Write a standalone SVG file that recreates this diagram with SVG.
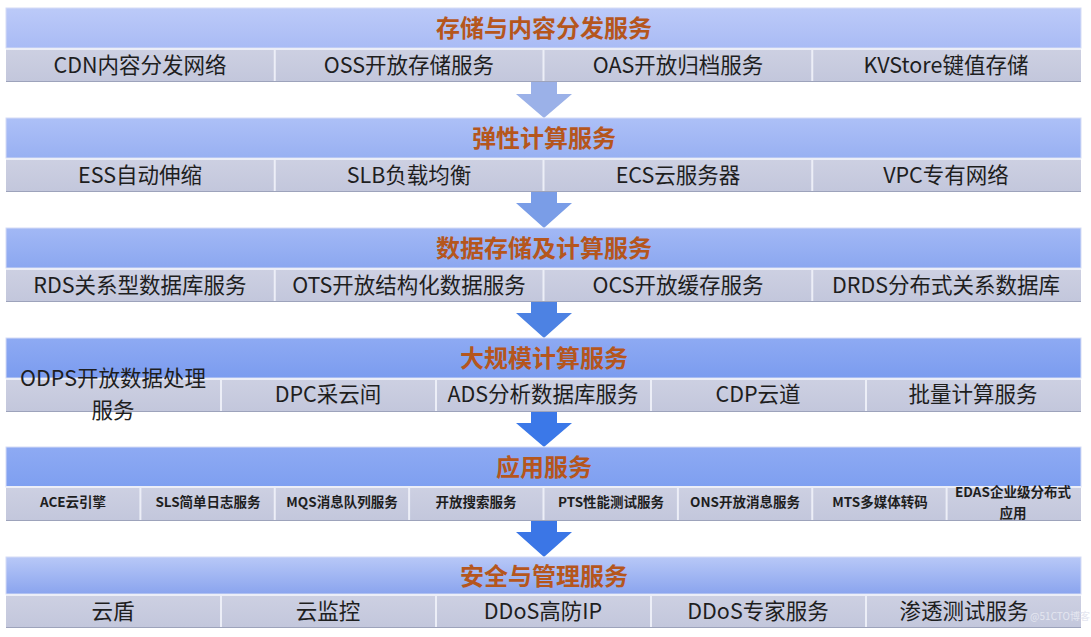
<svg xmlns="http://www.w3.org/2000/svg" width="1091" height="637" viewBox="0 0 1091 637">
<defs>
<linearGradient id="h1" x1="0" y1="0" x2="0" y2="1"><stop offset="0" stop-color="#bccaf8"/><stop offset="1" stop-color="#a9bbf5"/></linearGradient>
<linearGradient id="h2" x1="0" y1="0" x2="0" y2="1"><stop offset="0" stop-color="#adc0f7"/><stop offset="1" stop-color="#98b0f2"/></linearGradient>
<linearGradient id="h3" x1="0" y1="0" x2="0" y2="1"><stop offset="0" stop-color="#a2b8f5"/><stop offset="1" stop-color="#8ba7f0"/></linearGradient>
<linearGradient id="h4" x1="0" y1="0" x2="0" y2="1"><stop offset="0" stop-color="#8eaaf3"/><stop offset="1" stop-color="#7b9cef"/></linearGradient>
<linearGradient id="h5" x1="0" y1="0" x2="0" y2="1"><stop offset="0" stop-color="#8eaaf3"/><stop offset="1" stop-color="#7e9ff0"/></linearGradient>
<linearGradient id="h6" x1="0" y1="0" x2="0" y2="1"><stop offset="0" stop-color="#b8c8f7"/><stop offset="1" stop-color="#8aa4ee"/></linearGradient>
<linearGradient id="cell" x1="0" y1="0" x2="0" y2="1"><stop offset="0" stop-color="#cdd0e2"/><stop offset="1" stop-color="#c3c7dc"/></linearGradient>
</defs>
<style>
.hd{stroke:#d5dcf5;stroke-width:1}
.row{fill:url(#cell)}
.sh{fill:#9da3bb}
.dv{stroke:#eceef7;stroke-width:2}
.ht{font-family:"Noto Sans CJK SC","Noto Sans",sans-serif;font-weight:bold;font-size:24px;fill:#b5561d;text-anchor:middle}
.ct{font-family:"Noto Sans CJK SC","Noto Sans",sans-serif;font-size:21.5px;fill:#1e1e1e;text-anchor:middle}
.cs{font-family:"Noto Sans CJK SC","Noto Sans",sans-serif;font-size:13.5px;font-weight:bold;fill:#1e1e1e;text-anchor:middle}
.wm{font-family:"Noto Sans CJK SC","Noto Sans",sans-serif;font-size:10px;fill:#e4e6f0;text-anchor:end}
</style>
<rect width="1091" height="637" fill="#ffffff"/>

<g id="connectors">
<polygon fill="#9bb1e8" points="531,82 557,82 557,94 572,94 544,118 516,94 531,94"/>
<polygon fill="#7a9de7" points="531,192 557,192 557,203 572,203 544,228 516,203 531,203"/>
<polygon fill="#4d82e3" points="531,302 557,302 557,313 572,313 544,338 516,313 531,313"/>
<polygon fill="#3b78e8" points="531,412 557,412 557,423 572,423 544,447 516,423 531,423"/>
<polygon fill="#3b76e6" points="531,521 557,521 557,532 572,532 544,557 516,532 531,532"/>
</g>

<g id="band1">
<rect class="hd" x="6" y="8" width="1075" height="40" fill="url(#h1)"/>
<text class="ht" x="544" y="37">存储与内容分发服务</text>
<rect class="sh" x="6" y="80" width="1075" height="2"/>
<rect class="row" x="6" y="49" width="1075" height="32"/>
<line class="dv" x1="6" y1="49" x2="1081" y2="49"/>
<line class="dv" x1="274.75" y1="49" x2="274.75" y2="81"/>
<line class="dv" x1="543.5" y1="49" x2="543.5" y2="81"/>
<line class="dv" x1="812.25" y1="49" x2="812.25" y2="81"/>
<g id="cdn"><text class="ct" x="140" y="72.5">CDN内容分发网络</text></g>
<g id="oss"><text class="ct" x="409" y="72.5">OSS开放存储服务</text></g>
<g id="oas"><text class="ct" x="678" y="72.5">OAS开放归档服务</text></g>
<g id="kvstore"><text class="ct" x="946" y="72.5">KVStore键值存储</text></g>
</g>

<g id="band2">
<rect class="hd" x="6" y="118" width="1075" height="40" fill="url(#h2)"/>
<text class="ht" x="544" y="147">弹性计算服务</text>
<rect class="sh" x="6" y="190" width="1075" height="2"/>
<rect class="row" x="6" y="159" width="1075" height="32"/>
<line class="dv" x1="6" y1="159" x2="1081" y2="159"/>
<line class="dv" x1="274.75" y1="159" x2="274.75" y2="191"/>
<line class="dv" x1="543.5" y1="159" x2="543.5" y2="191"/>
<line class="dv" x1="812.25" y1="159" x2="812.25" y2="191"/>
<g id="ess"><text class="ct" x="140" y="182.5">ESS自动伸缩</text></g>
<g id="slb"><text class="ct" x="409" y="182.5">SLB负载均衡</text></g>
<g id="ecs"><text class="ct" x="678" y="182.5">ECS云服务器</text></g>
<g id="vpc"><text class="ct" x="946" y="182.5">VPC专有网络</text></g>
</g>

<g id="band3">
<rect class="hd" x="6" y="228" width="1075" height="40" fill="url(#h3)"/>
<text class="ht" x="544" y="257">数据存储及计算服务</text>
<rect class="sh" x="6" y="300" width="1075" height="2"/>
<rect class="row" x="6" y="269" width="1075" height="32"/>
<line class="dv" x1="6" y1="269" x2="1081" y2="269"/>
<line class="dv" x1="274.75" y1="269" x2="274.75" y2="301"/>
<line class="dv" x1="543.5" y1="269" x2="543.5" y2="301"/>
<line class="dv" x1="812.25" y1="269" x2="812.25" y2="301"/>
<g id="rds"><text class="ct" x="140" y="292.5">RDS关系型数据库服务</text></g>
<g id="ots"><text class="ct" x="409" y="292.5">OTS开放结构化数据服务</text></g>
<g id="ocs"><text class="ct" x="678" y="292.5">OCS开放缓存服务</text></g>
<g id="drds"><text class="ct" x="946" y="292.5">DRDS分布式关系数据库</text></g>
</g>

<g id="band4">
<rect class="hd" x="6" y="338" width="1075" height="40" fill="url(#h4)"/>
<text class="ht" x="544" y="367">大规模计算服务</text>
<rect class="sh" x="6" y="410" width="1075" height="2"/>
<rect class="row" x="6" y="379" width="1075" height="32"/>
<line class="dv" x1="6" y1="379" x2="1081" y2="379"/>
<line class="dv" x1="221" y1="379" x2="221" y2="411"/>
<line class="dv" x1="436" y1="379" x2="436" y2="411"/>
<line class="dv" x1="651" y1="379" x2="651" y2="411"/>
<line class="dv" x1="866" y1="379" x2="866" y2="411"/>
<g id="odps"><text class="ct" x="113" y="386">ODPS开放数据处理</text><text class="ct" x="113" y="418">服务</text></g>
<g id="dpc"><text class="ct" x="328" y="402">DPC采云间</text></g>
<g id="ads"><text class="ct" x="543" y="402">ADS分析数据库服务</text></g>
<g id="cdp"><text class="ct" x="758" y="402">CDP云道</text></g>
<g id="batch"><text class="ct" x="973" y="402">批量计算服务</text></g>
</g>

<g id="band5">
<rect class="hd" x="6" y="447" width="1075" height="40" fill="url(#h5)"/>
<text class="ht" x="544" y="476">应用服务</text>
<rect class="sh" x="6" y="519" width="1075" height="2"/>
<rect class="row" x="6" y="487" width="1075" height="33"/>
<line class="dv" x1="6" y1="487" x2="1081" y2="487"/>
<line class="dv" x1="140.4" y1="487" x2="140.4" y2="520"/>
<line class="dv" x1="274.75" y1="487" x2="274.75" y2="520"/>
<line class="dv" x1="409.1" y1="487" x2="409.1" y2="520"/>
<line class="dv" x1="543.5" y1="487" x2="543.5" y2="520"/>
<line class="dv" x1="677.9" y1="487" x2="677.9" y2="520"/>
<line class="dv" x1="812.25" y1="487" x2="812.25" y2="520"/>
<line class="dv" x1="946.6" y1="487" x2="946.6" y2="520"/>
<g id="ace"><text class="cs" x="73" y="507">ACE云引擎</text></g>
<g id="sls"><text class="cs" x="208" y="507">SLS简单日志服务</text></g>
<g id="mqs"><text class="cs" x="342" y="507">MQS消息队列服务</text></g>
<g id="search"><text class="cs" x="476" y="507">开放搜索服务</text></g>
<g id="pts"><text class="cs" x="611" y="507">PTS性能测试服务</text></g>
<g id="ons"><text class="cs" x="745" y="507">ONS开放消息服务</text></g>
<g id="mts"><text class="cs" x="880" y="507">MTS多媒体转码</text></g>
<g id="edas"><text class="cs" x="1013" y="497">EDAS企业级分布式</text><text class="cs" x="1013" y="518">应用</text></g>
</g>

<g id="band6">
<rect class="hd" x="6" y="557" width="1075" height="37" fill="url(#h6)"/>
<text class="ht" x="544" y="585">安全与管理服务</text>
<rect class="sh" x="6" y="626" width="1075" height="2"/>
<rect class="row" x="6" y="595" width="1075" height="32"/>
<line class="dv" x1="6" y1="595" x2="1081" y2="595"/>
<line class="dv" x1="221" y1="595" x2="221" y2="627"/>
<line class="dv" x1="436" y1="595" x2="436" y2="627"/>
<line class="dv" x1="651" y1="595" x2="651" y2="627"/>
<line class="dv" x1="866" y1="595" x2="866" y2="627"/>
<g id="yundun"><text class="ct" x="113" y="618.5">云盾</text></g>
<g id="monitor"><text class="ct" x="328" y="618.5">云监控</text></g>
<g id="ddosip"><text class="ct" x="543" y="618.5">DDoS高防IP</text></g>
<g id="ddosexpert"><text class="ct" x="758" y="618.5">DDoS专家服务</text></g>
<g id="pentest"><text class="ct" x="964" y="618.5">渗透测试服务</text></g>
<text class="wm" x="1090" y="620">@51CTO博客</text>
</g>
</svg>
